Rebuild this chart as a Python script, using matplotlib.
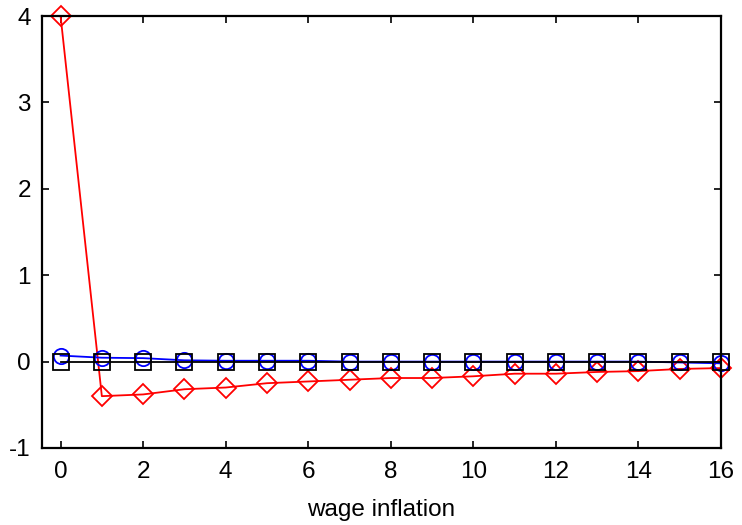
import matplotlib
matplotlib.use('Agg')
import matplotlib.pyplot as plt

periods = list(range(17))
red_vals = [4.0, -0.40, -0.38, -0.32, -0.30, -0.25, -0.23, -0.21, -0.19, -0.19,
            -0.17, -0.14, -0.14, -0.12, -0.11, -0.085, -0.075]
blue_vals = [0.07, 0.045, 0.04, 0.015, 0.01, 0.01, 0.01, 0.0, 0.0, 0.0,
             0.0, 0.0, 0.0, 0.0, 0.0, -0.01, -0.02]
black_vals = [0.0] * 17

plt.rcParams['font.family'] = ['Liberation Sans', 'DejaVu Sans']
plt.rcParams['axes.unicode_minus'] = False

fig = plt.figure(figsize=(7.42, 5.25), dpi=100)
ax = fig.add_axes([42 / 742, 77 / 525, 679 / 742, 432 / 525])

ax.plot(periods, red_vals, color='red', marker='D', markersize=10.5,
        markerfacecolor='none', markeredgewidth=1.3, linewidth=1.3, clip_on=False)
ax.plot(periods, blue_vals, color='blue', marker='o', markersize=11,
        markerfacecolor='none', markeredgewidth=1.3, linewidth=1.3, clip_on=False)
ax.plot(periods, black_vals, color='black', marker='s', markersize=11,
        markerfacecolor='none', markeredgewidth=1.3, linewidth=1.3, clip_on=False)

ax.set_xlim(-0.45, 16)
ax.set_ylim(-1, 4)
ax.set_xticks(range(0, 17, 2))
ax.set_yticks(range(-1, 5))
ax.tick_params(direction='in', length=5, width=1.2, labelsize=17.5, top=True, right=True)
ax.tick_params(axis='x', pad=9)
ax.tick_params(axis='y', pad=8)
for s in ax.spines.values():
    s.set_linewidth(1.6)
ax.set_xlabel('wage inflation', fontsize=17.5, labelpad=12)

fig.savefig('out.png', dpi=100)
